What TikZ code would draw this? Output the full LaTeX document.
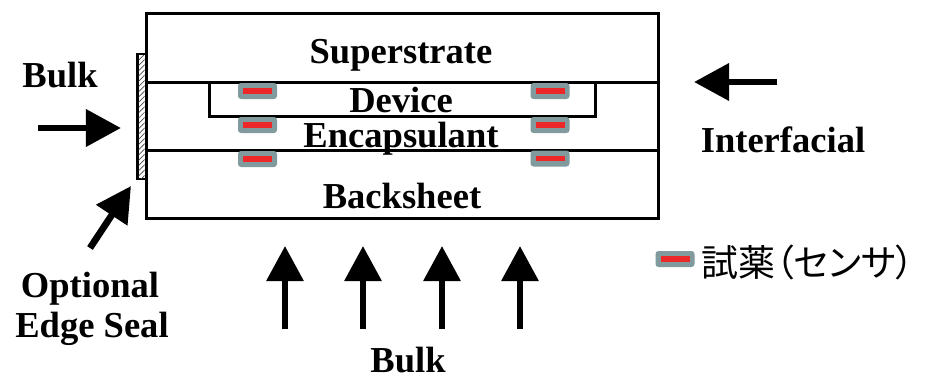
\documentclass[tikz,border=0pt]{standalone}
\usepackage{fontspec}
\setmainfont{Liberation Serif}
\newfontfamily\cjk[RawFeature=+palt]{Noto Sans CJK JP}
\usetikzlibrary{arrows.meta,patterns}
\definecolor{sgray}{RGB}{128,154,157}
\definecolor{sred}{RGB}{236,40,40}
\begin{document}
\begin{tikzpicture}[x=0.2mm,y=-0.2mm,
  lbl/.style={font=\fontsize{20.8}{24}\selectfont\bfseries, anchor=base, inner sep=0pt},
  bigarrow/.style={line width=1.35mm, -{Triangle[length=7mm,width=7.2mm]}},
  layer/.style={line width=0.6mm},
  sensor/.pic={
    \fill[sgray, rounded corners=0.6mm] (-19.5,-8) rectangle (19.5,8);
    \fill[sred] (-14.5,-2.6) rectangle (14.5,2.6);
  }]
\useasboundingbox (0,0) rectangle (930,378);
% edge seal
\fill[black] (136,53) rectangle (147,180);
\fill[white] (138.5,55) rectangle (144.5,178);
\fill[pattern=north east lines, pattern color=black!70] (138.5,55) rectangle (144.5,178);
% module layers
\draw[layer] (146,13) rectangle (658,218);
\draw[layer] (146,82) -- (658,82);
\draw[layer] (146,150) -- (658,150);
\draw[layer] (209,82) -- (209,116) -- (595,116) -- (595,82);
% sensors
\pic (sl1) at (257.5,91) {sensor};
\pic (sl2) at (257.5,125) {sensor};
\pic (sl3) at (257.5,159) {sensor};
\pic (sr1) at (550,91) {sensor};
\pic (sr2) at (550,125) {sensor};
\pic (sr3) at (550,158.5) {sensor};
% labels
\node[lbl] (sup) at (401,63) {Superstrate};
\node[lbl] (dev) at (401,112) {Device};
\node[lbl] (enc) at (401,147) {Encapsulant};
\node[lbl] (back) at (402,208) {Backsheet};
\node[lbl] (bulkL) at (60,87) {Bulk};
\node[lbl] (inter) at (783,152) {Interfacial};
\node[lbl] (opt) at (90,297) {Optional};
\node[lbl] (edge) at (92,337) {Edge Seal};
\node[lbl] (bulkB) at (408,372) {Bulk};
% arrows
\coordinate (aL1) at (38,128); \coordinate (aL2) at (121,128);
\draw[bigarrow] (aL1) -- (aL2);
\coordinate (aR1) at (777,82); \coordinate (aR2) at (694,82);
\draw[bigarrow] (aR1) -- (aR2);
\coordinate (aD1) at (90,248); \coordinate (aD2) at (131,186);
\draw[bigarrow] (aD1) -- (aD2);
\foreach \i/\x in {1/285,2/363,3/442,4/520}{
  \coordinate (aB\i a) at (\x,329); \coordinate (aB\i b) at (\x,246);
  \draw[bigarrow, line width=1.25mm] (aB\i a) -- (aB\i b);
}
% legend
\pic (leg) at (675,259) {sensor};
\node[anchor=base west, inner sep=0pt, font=\cjk\fontsize{21}{24}\selectfont] (legtxt) at (701,276) {試薬（センサ）};
\end{tikzpicture}
\end{document}
